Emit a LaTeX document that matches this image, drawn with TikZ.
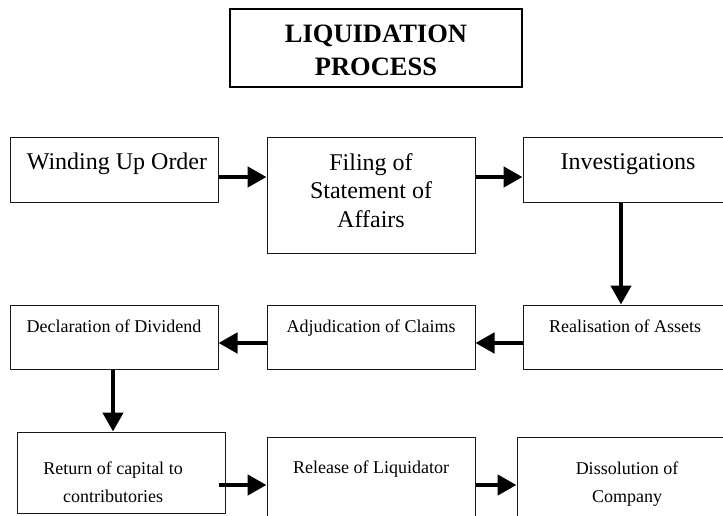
\documentclass[tikz,border=0pt]{standalone}
\usepackage{fontspec}
\setmainfont{Liberation Serif}
\usetikzlibrary{arrows.meta}
\begin{document}
\begin{tikzpicture}[x=1pt,y=-1pt,
  stepbox/.style={draw=black!90, line width=1pt, inner sep=0pt},
  titlebox/.style={draw=black, line width=2pt, inner sep=0pt},
  flow/.style={line width=4.5pt, -{Triangle[length=19pt,width=20pt]}},
  bigtext/.style={font=\fontsize{24}{28.5}\selectfont, align=center, anchor=base, inner sep=0pt},
  smalltext/.style={font=\fontsize{18}{28}\selectfont, align=center, anchor=base, inner sep=0pt},
  titletext/.style={font=\bfseries\fontsize{26.5}{33}\selectfont, align=center, anchor=base, inner sep=0pt},
]
\useasboundingbox (0,0) rectangle (723,516);
\clip (0,0) rectangle (723,516);

% title (base anchor of a multi-line node sits on its last line)
\node[titlebox, minimum width=292pt, minimum height=78pt] (title) at (376,48) {};
\node[titletext] (titlelbl) at (376,76) {LIQUIDATION\\PROCESS};

% first row
\node[stepbox, minimum width=208pt, minimum height=64pt]  (win) at (114,170) {};
\node[stepbox, minimum width=208pt, minimum height=115pt] (fil) at (371,195.5) {};
\node[stepbox, minimum width=210pt, minimum height=64pt]  (inv) at (628,170) {};
\node[bigtext] (winlbl) at (117,170) {Winding Up Order};
\node[bigtext] (fillbl) at (371,227) {Filing of\\Statement of\\Affairs};
\node[bigtext] (invlbl) at (628,170) {Investigations};

% second row
\node[stepbox, minimum width=210pt, minimum height=64pt] (rea) at (628,337) {};
\node[stepbox, minimum width=208pt, minimum height=64pt] (adj) at (371,337) {};
\node[stepbox, minimum width=208pt, minimum height=64pt] (dec) at (114,337) {};
\node[smalltext] (realbl) at (625,332) {Realisation of Assets};
\node[smalltext] (adjlbl) at (371,332) {Adjudication of Claims};
\node[smalltext] (declbl) at (114,332) {Declaration of Dividend};

% third row
\node[stepbox, minimum width=208pt, minimum height=81pt] (ret) at (121,472.5) {};
\node[stepbox, minimum width=208pt, minimum height=93pt] (rel) at (371,483.5) {};
\node[stepbox, minimum width=220pt, minimum height=93pt] (dis) at (627,483.5) {};
\node[smalltext] (retlbl) at (113,502) {Return of capital to\\contributories};
\node[smalltext] (rellbl) at (371,473) {Release of Liquidator};
\node[smalltext] (dislbl) at (627,502) {Dissolution of\\Company};

% connectors
\coordinate (r1) at ([yshift=-7pt]win.east);
\draw[flow] (r1) -- (r1 -| fil.west);
\draw[flow] (r1 -| fil.east) -- (r1 -| inv.west);
\draw[flow] ([xshift=-7pt]inv.south) -- ([xshift=-7pt]rea.north);
\draw[flow] ([yshift=-6pt]rea.west) -- ([yshift=-6pt]adj.east);
\draw[flow] ([yshift=-6pt]adj.west) -- ([yshift=-6pt]dec.east);
\draw[flow] ([xshift=-1pt]dec.south) -- ([xshift=-8pt]ret.north);
\coordinate (r3) at ([xshift=-7pt,yshift=-12.5pt]ret.east);
\draw[flow] (r3) -- (r3 -| rel.west);
\draw[flow] (r3 -| rel.east) -- (r3 -| dis.west);
\end{tikzpicture}
\end{document}
